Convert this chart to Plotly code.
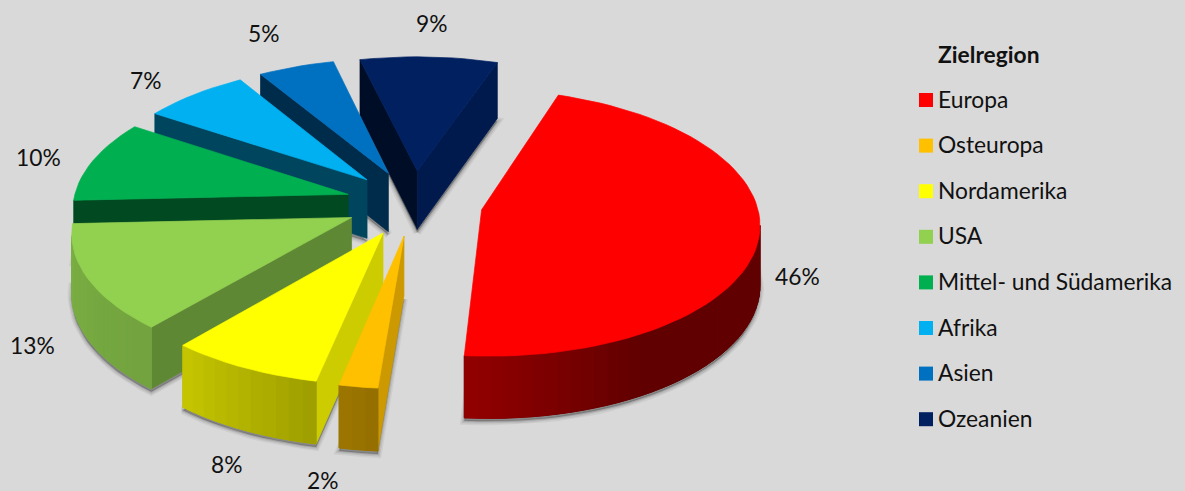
import numpy as np
import plotly.graph_objects as go

# Destination regions and their shares in percent
regions = ["Europa", "Osteuropa", "Nordamerika", "USA",
           "Mittel- und Südamerika", "Afrika", "Asien", "Ozeanien"]
shares = [46, 2, 8, 13, 10, 7, 5, 9]
colors = ["#FF0000", "#FFC000", "#FFFF00", "#92D050",
          "#00B050", "#00B0F0", "#0070C0", "#002060"]
legend_title = "Zielregion"

# Geometry of the exploded, tilted pie (pixel-scaled axes)
START_DEG = 19.0
CX, CY = 414.0, 203.0
RADIUS = 275.0
SQUASH = 131.0 / 275.0
PERSPECTIVE = 0.096
EXPLODE = 0.25
DEPTH = 59.0

BACKGROUND = "#D9D9D9"
FONT = "Lato"
LABEL_SIZE = 22.8
WIDTH, HEIGHT = 1185, 491

# Label anchors for each percentage, in the same order as the regions
label_anchor_x = [797, 323, 227, 32, 38, 146, 264, 432]
label_anchor_y = [276, 480, 464, 345, 157, 80, 33, 23]


def project(px, py, z=0.0):
    """Map disc coordinates (radius units, y pointing away) to the canvas."""
    s = 1.0 / (1.0 + PERSPECTIVE * py)
    return CX + RADIUS * px * s, CY - RADIUS * SQUASH * py * s + z * np.sqrt(s)


def shade(color, factor):
    r, g, b = (int(color[i:i + 2], 16) for i in (1, 3, 5))
    return f"rgb({r * factor:.0f},{g * factor:.0f},{b * factor:.0f})"


def wall_factor(theta):
    theta = theta % 360
    return float(np.interp(theta, [20, 192, 221, 268, 304, 347],
                           [0.8, 0.8, 0.65, 0.41, 0.39, 0.4]))


def rim_factor(theta):
    return float(np.interp(theta % 360, [90, 150, 185, 221, 268],
                           [0.38, 0.38, 0.58, 0.78, 0.85]))


fig = go.Figure()


def polygon(xs, ys, fill, line=None, width=0.7, name=""):
    fig.add_trace(go.Scatter(
        x=list(xs), y=list(ys), mode="lines", fill="toself", fillcolor=fill,
        line=dict(color=line or fill, width=width), hoverinfo="skip",
        showlegend=False, name=name))


# Angular extents of the slices, clockwise from the top
edges = START_DEG + np.concatenate([[0], np.cumsum(shares)]) * 3.6
slices = []
for i, value in enumerate(shares):
    t0, t1 = edges[i], edges[i + 1]
    mid = np.radians((t0 + t1) / 2)
    ax, ay = EXPLODE * np.sin(mid), EXPLODE * np.cos(mid)
    thetas = np.linspace(t0, t1, max(int((t1 - t0) / 2.5), 3) + 1)
    rad = np.radians(thetas)
    rx, ry = ax + np.sin(rad), ay + np.cos(rad)
    slices.append(dict(i=i, t0=t0, t1=t1, ax=ax, ay=ay, thetas=thetas, rx=rx, ry=ry))

# Soft drop shadow underneath every slice
for sl in slices:
    bx, by = project(np.r_[sl["ax"], sl["rx"]], np.r_[sl["ay"], sl["ry"]], DEPTH)
    bx, by = np.r_[bx, bx[0]], np.r_[by, by[0]] + 3
    for w, alpha in ((8, 0.05), (5, 0.08), (2, 0.12)):
        polygon(bx, by, "rgba(0,0,0,0.10)", f"rgba(0,0,0,{alpha})", w)

# Paint far slices first so nearer ones sit on top
for sl in sorted(slices, key=lambda s: s["ay"], reverse=True):
    color = colors[sl["i"]]
    ax, ay, rx, ry, thetas = sl["ax"], sl["ay"], sl["rx"], sl["ry"], sl["thetas"]
    tx, ty = project(rx, ry)
    bx, by = project(rx, ry, DEPTH)
    apex_x, apex_y = project(ax, ay)
    low_x, low_y = project(ax, ay, DEPTH)
    mx, my = tx[len(tx) // 2], ty[len(ty) // 2]

    # Radial cut faces, kept only where they look towards the viewer
    for end, theta in ((0, sl["t0"]), (-1, sl["t1"])):
        ex, ey = tx[end] - apex_x, ty[end] - apex_y
        side_mid = ex * (my - apex_y) - ey * (mx - apex_x)
        side_down = ex * 1.0
        if side_mid * side_down < 0:
            polygon([apex_x, tx[end], bx[end], low_x, apex_x],
                    [apex_y, ty[end], by[end], low_y, apex_y],
                    shade(color, wall_factor(theta)))

    # Outer rim: a solid backing, then narrow quads for the light falloff
    front = [k for k in range(len(thetas) - 1) if tx[k + 1] < tx[k]]
    if front:
        idx = np.r_[front, front[-1] + 1]
        base = rim_factor(thetas[idx].mean())
        polygon(np.r_[tx[idx], bx[idx][::-1], tx[idx[0]]],
                np.r_[ty[idx], by[idx][::-1], ty[idx[0]]],
                shade(color, base))
    for k in front:
        polygon([tx[k], tx[k + 1], bx[k + 1], bx[k], tx[k]],
                [ty[k], ty[k + 1], by[k + 1], by[k], ty[k]],
                shade(color, rim_factor((thetas[k] + thetas[k + 1]) / 2)),
                width=1)

    # Top face of the slice
    polygon(np.r_[apex_x, tx, apex_x], np.r_[apex_y, ty, apex_y], color,
            name=regions[sl["i"]])

# Percentage labels around the pie
for value, lx, ly in zip(shares, label_anchor_x, label_anchor_y):
    fig.add_annotation(x=lx, y=ly, text=f"{value}%", showarrow=False,
                       xanchor="center", yanchor="middle",
                       font=dict(family=FONT, size=LABEL_SIZE, color="#111111"))

# Key on the right: title, then one swatch and name per region
KEY_X, KEY_TEXT_X, KEY_TOP, KEY_STEP = 926, 936, 98.5, 45.6
key_y = [KEY_TOP + KEY_STEP * i for i in range(len(regions))]
fig.add_trace(go.Scatter(
    x=[KEY_X] * len(regions), y=[y + 1.5 for y in key_y], mode="markers",
    marker=dict(symbol="square", size=14, color=colors, line=dict(width=0)),
    hoverinfo="skip", showlegend=False))
for name, y in zip(regions, key_y):
    fig.add_annotation(x=KEY_TEXT_X, y=y, text=name, showarrow=False,
                       xanchor="left", yanchor="middle",
                       font=dict(family=FONT, size=LABEL_SIZE, color="#111111"))
fig.add_annotation(x=KEY_TEXT_X, y=54, text=f"<b>{legend_title}</b>", showarrow=False,
                   xanchor="left", yanchor="middle",
                   font=dict(family=FONT, size=LABEL_SIZE, color="#111111"))

fig.update_layout(
    width=WIDTH, height=HEIGHT, margin=dict(l=0, r=0, t=0, b=0),
    paper_bgcolor=BACKGROUND, plot_bgcolor=BACKGROUND, showlegend=False,
    xaxis=dict(range=[0, WIDTH], visible=False, fixedrange=True),
    yaxis=dict(range=[HEIGHT, 0], visible=False, fixedrange=True))

fig.write_html("out.html", config=dict(displayModeBar=False))
